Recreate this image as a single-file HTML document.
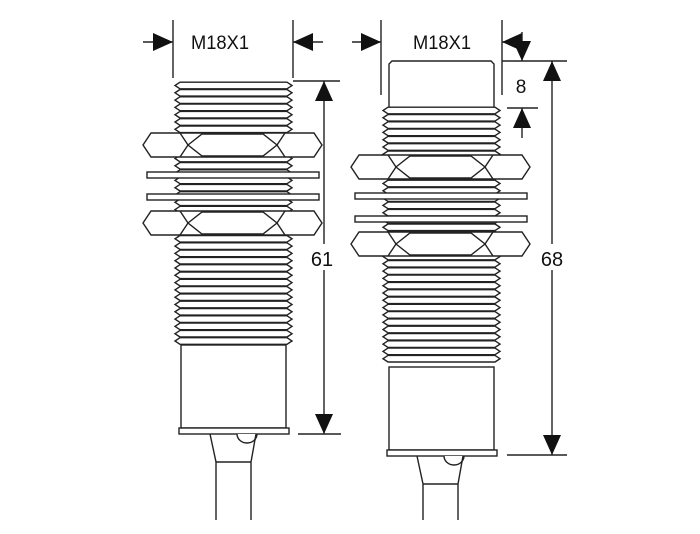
<!DOCTYPE html>
<html><head><meta charset="utf-8">
<style>
html,body{margin:0;padding:0;background:#fff;}
svg{display:block;}
text{font-family:"Liberation Sans",sans-serif;fill:#111;}
</style></head>
<body>
<svg id="s" width="700" height="534" viewBox="0 0 700 534" xmlns="http://www.w3.org/2000/svg">
<g id="g" fill="#fff" stroke="#222" stroke-width="1.4">
</g>
<g fill="#111" stroke="none" font-size="19">
<text x="220" y="49" text-anchor="middle" textLength="58" lengthAdjust="spacingAndGlyphs">M18X1</text>
<text x="442" y="49" text-anchor="middle" textLength="58" lengthAdjust="spacingAndGlyphs">M18X1</text>
<text x="521" y="93" text-anchor="middle">8</text>
</g>
</svg>
<script>
var g=document.getElementById('g');var h='';
function L(a,b,c,d){h+='<line x1="'+a+'" y1="'+b+'" x2="'+c+'" y2="'+d+'" fill="none"/>';}
function P(pts,extra){h+='<polygon points="'+pts+'" '+(extra||'')+'/>';}
function R(x,y,w,hh){h+='<rect x="'+x+'" y="'+y+'" width="'+w+'" height="'+hh+'"/>';}
function arrow(x,y,dir){
 var s=9,l=20,p;
 if(dir=='r')p=[x,y,x-l,y-s,x-l,y+s];
 if(dir=='l')p=[x,y,x+l,y-s,x+l,y+s];
 if(dir=='u')p=[x,y,x-s,y+l,x+s,y+l];
 if(dir=='d')p=[x,y,x-s,y-l,x+s,y-l];
 h+='<polygon points="'+p.join(',')+'" fill="#111" stroke="none"/>';}
function thread(l,r,y0,y1){for(var y=y0+3.5;y<=y1-3;y+=7.3){P([l+5,y-3.3,r-5,y-3.3,r,y,r-5,y+3.3,l+5,y+3.3,l,y].join(','));}}
function nut(l,r,y0,y1){var m=(y0+y1)/2,a=l+45,b=r-45;
 P([l,m,l+8,y0,r-8,y0,r,m,r-8,y1,l+8,y1].join(','));
 h+='<path d="M'+a+' '+m+' L'+(a+14)+' '+(y0+1)+' L'+(b-14)+' '+(y0+1)+' L'+b+' '+m+' L'+(b-14)+' '+(y1-1)+' L'+(a+14)+' '+(y1-1)+'Z"/>';
 L(a,m,a-8,y0);L(a,m,a-8,y1);L(b,m,b+8,y0);L(b,m,b+8,y1);}
function sensor(l,r,ty0,ty1,nuts,wash,by1,cx){
 thread(l,r,ty0,ty1);
 nut(l-32,r+30,nuts[0],nuts[0]+24);
 R(l-28,wash[0],r-l+55,6);R(l-28,wash[1],r-l+55,6);
 nut(l-32,r+30,nuts[1],nuts[1]+24);
 R(l+6,ty1,r-l-12,by1-ty1);
 R(l+4,by1,r-l-7,6);
 var t=by1+6;
 h+='<path d="M'+(cx+21)+' '+t+' A10 9 0 0 0 '+(cx+41)+' '+t+'"/>';
 h+='<path fill="none" d="M'+(cx-6)+' '+t+' L'+(cx)+' '+(t+28)+' L'+cx+' 520 M'+(cx+40)+' '+t+' L'+(cx+35)+' '+(t+28)+' L'+(cx+35)+' 520 M'+cx+' '+(t+28)+' L'+(cx+35)+' '+(t+28)+'"/>';}
sensor(175,292,82,345,[133,211],[172,194],428,216);
h+='<path d="M389 107 L389 64 L392 61 L491 61 L494 64 L494 107"/>';
sensor(383,500,107,367,[155,232],[193,216],450,423);
L(173,20,173,78);L(293,20,293,78);
L(143,42,173,42);arrow(173,42,'r');L(293,42,323,42);arrow(293,42,'l');
L(293,81,340,81);L(298,434,341,434);L(324,81,324,434);arrow(324,81,'u');arrow(324,434,'d');
L(381,20,381,95);L(502,20,502,95);
L(352,42,381,42);arrow(381,42,'r');L(502,42,530,42);arrow(502,42,'l');
L(522,32,522,61);arrow(522,61,'d');
L(502,61,567,61);L(507,108,538,108);L(522,108,522,138);arrow(522,108,'u');
L(552,61,552,455);arrow(552,61,'u');arrow(552,455,'d');L(507,455,567,455);
g.innerHTML=h;
var s=document.getElementById('s');
s.insertAdjacentHTML('beforeend','<rect x="308" y="244" width="28" height="26" fill="#fff"/><text x="322" y="266" font-size="20" text-anchor="middle">61</text><rect x="537" y="244" width="30" height="26" fill="#fff"/><text x="552" y="266" font-size="20" text-anchor="middle">68</text>');
</script>
</body></html>
